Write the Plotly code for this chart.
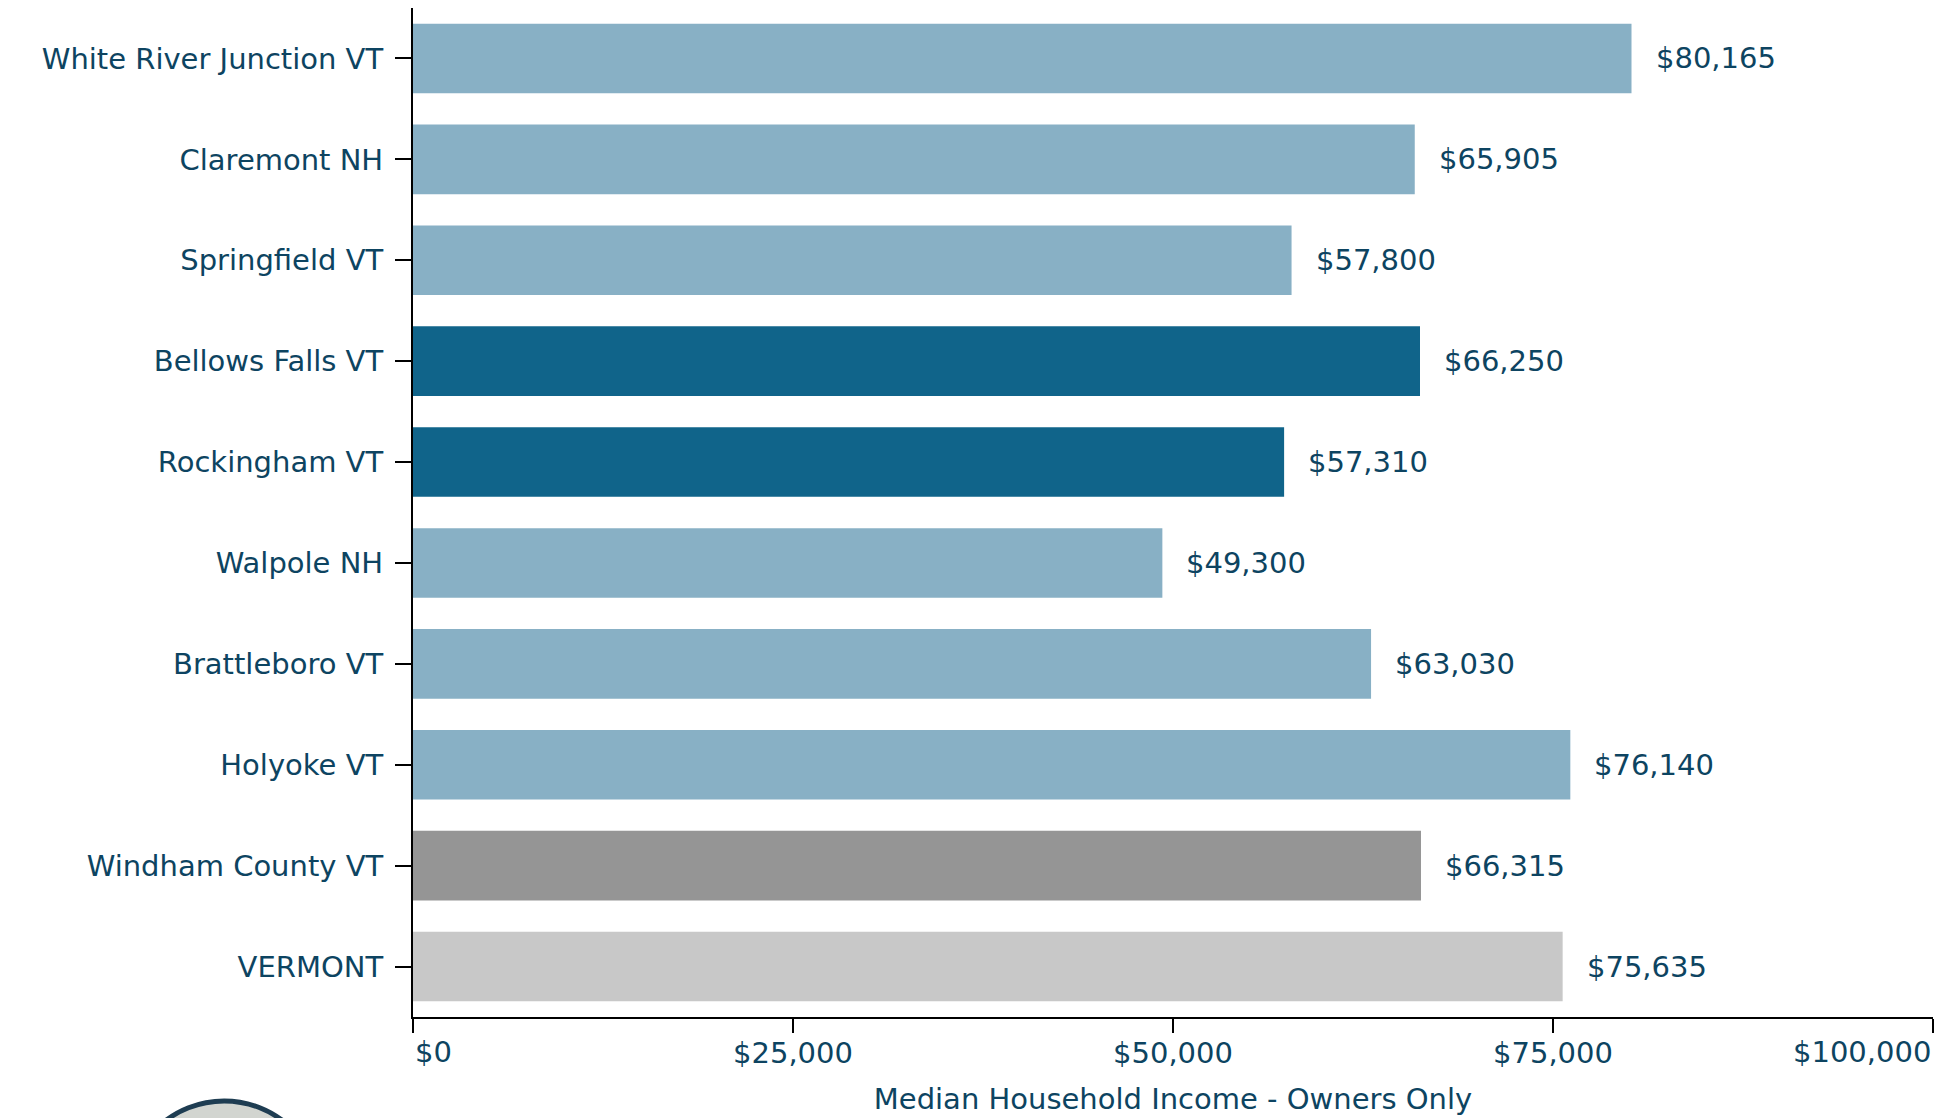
import plotly.graph_objects as go

# Median household income for owner households, by place
places = [
    "White River Junction VT",
    "Claremont NH",
    "Springfield VT",
    "Bellows Falls VT",
    "Rockingham VT",
    "Walpole NH",
    "Brattleboro VT",
    "Holyoke VT",
    "Windham County VT",
    "VERMONT",
]
income = [80165, 65905, 57800, 66250, 57310, 49300, 63030, 76140, 66315, 75635]
bar_colors = [
    "#88b0c5", "#88b0c5", "#88b0c5",
    "#10648a", "#10648a",
    "#88b0c5", "#88b0c5", "#88b0c5",
    "#959595", "#c8c8c8",
]
tick_values = [0, 25000, 50000, 75000, 100000]
tick_labels = ["$0", "$25,000", "$50,000", "$75,000", "$100,000"]

TEXT = "#0d4461"
FONT = "DejaVu Sans"
SIZE = 29

fig = go.Figure(
    go.Bar(
        x=income,
        y=places,
        orientation="h",
        marker=dict(color=bar_colors, line=dict(width=0)),
        width=0.69,
        hoverinfo="x+y",
    )
)

# value labels to the right of each bar
for place, val in zip(places, income):
    fig.add_annotation(
        x=val, y=place, xref="x", yref="y",
        text=f"${val:,}", showarrow=False,
        xanchor="left", yanchor="middle", xshift=22,
        font=dict(family=FONT, size=SIZE, color=TEXT),
    )

# end tick labels kept inside the plot width
inner_labels = ["" if v in (tick_values[0], tick_values[-1]) else t
                for v, t in zip(tick_values, tick_labels)]
fig.add_annotation(
    x=tick_values[0], y=0, xref="x", yref="paper", yanchor="top", xanchor="left",
    yshift=-16, text=tick_labels[0], showarrow=False,
    font=dict(family=FONT, size=SIZE, color=TEXT),
)
fig.add_annotation(
    x=tick_values[-1], y=0, xref="x", yref="paper", yanchor="top", xanchor="right",
    yshift=-16, text=tick_labels[-1], showarrow=False,
    font=dict(family=FONT, size=SIZE, color=TEXT),
)

# round badge peeking in at the lower left
fig.add_shape(
    type="circle", xref="paper", yref="paper",
    x0=-0.188, x1=-0.0605, y0=-0.2755, y1=-0.0832,
    fillcolor="#d2d5d0", line=dict(color="#1e3d52", width=5),
    layer="above",
)

fig.update_layout(
    width=1951, height=1118,
    margin=dict(l=413, r=18, t=8, b=101),
    paper_bgcolor="white", plot_bgcolor="white",
    showlegend=False,
    font=dict(family=FONT, size=SIZE, color=TEXT),
    bargap=0.31,
)
fig.update_xaxes(
    range=[0, 100000],
    tickvals=tick_values, ticktext=inner_labels,
    ticks="outside", ticklen=14, tickwidth=2, tickcolor="black",
    showline=True, linecolor="black", linewidth=2,
    showgrid=False, zeroline=False,
    tickfont=dict(family=FONT, size=SIZE, color=TEXT),
    ticklabelstandoff=-5,
    title=dict(text="Median Household Income - Owners Only",
               font=dict(family=FONT, size=SIZE, color=TEXT), standoff=20),
)
fig.update_yaxes(
    categoryorder="array", categoryarray=places, autorange="reversed",
    ticks="outside", ticklen=16, tickwidth=2, tickcolor="black",
    showline=True, linecolor="black", linewidth=2,
    showgrid=False, zeroline=False,
    tickfont=dict(family=FONT, size=SIZE, color=TEXT),
    ticklabelstandoff=6,
)

fig.write_html("out.html")
